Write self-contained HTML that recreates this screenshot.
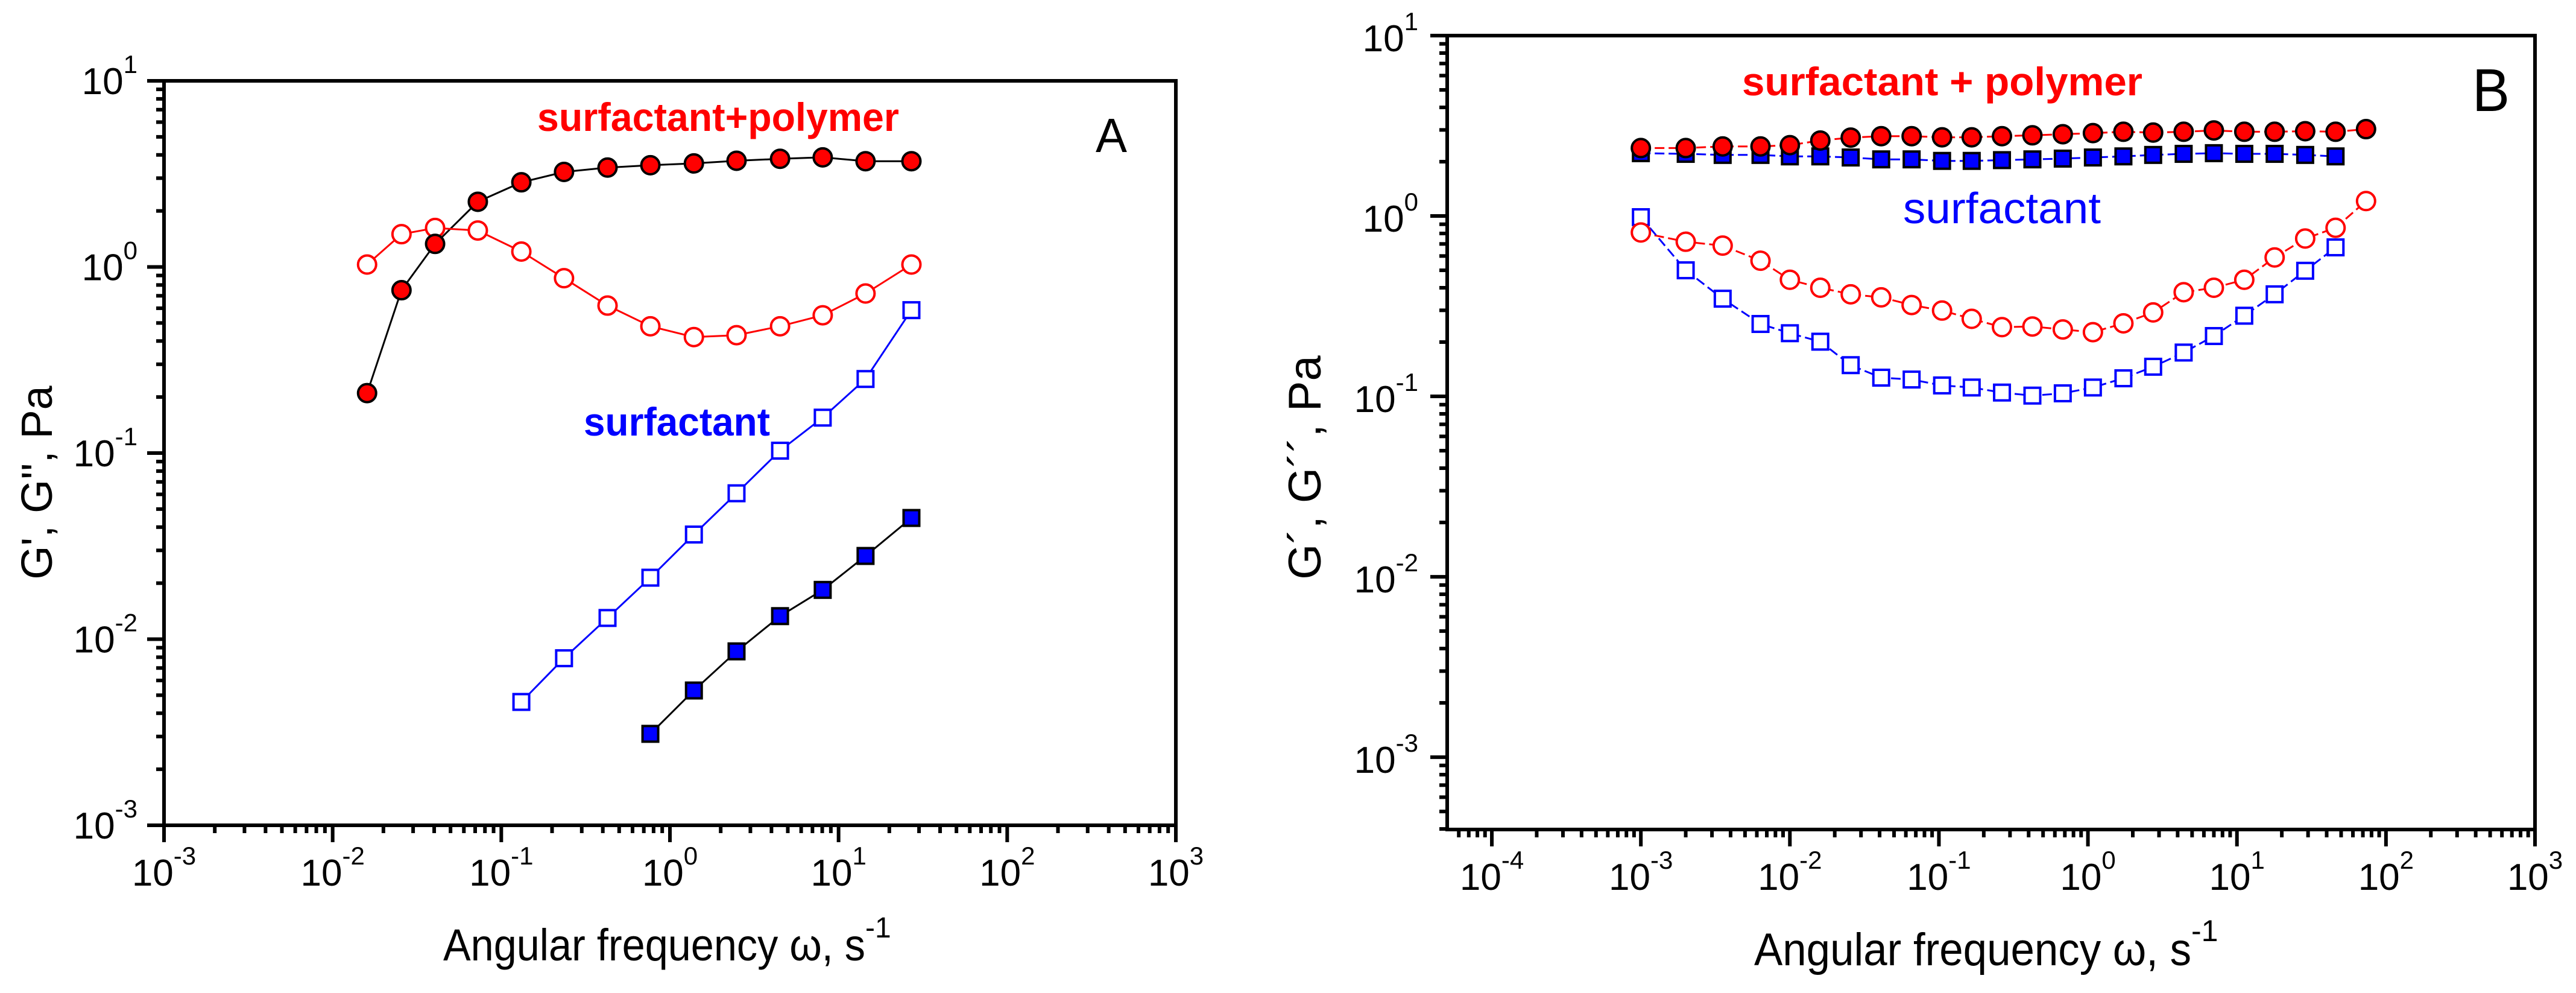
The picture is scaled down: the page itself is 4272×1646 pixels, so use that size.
<!DOCTYPE html>
<html>
<head>
<meta charset="utf-8">
<style>
  html,body{margin:0;padding:0;background:#fff;}
  svg{display:block;}
  text{font-family:"Liberation Sans Narrow","Liberation Sans",sans-serif;}
</style>
</head>
<body>
<svg id="fig" xmlns="http://www.w3.org/2000/svg" width="4272" height="1646" viewBox="0 0 4272 1646">
  <rect x="0" y="0" width="4272" height="1646" fill="#fff"/>
  <g id="panelA"></g>
  <g id="panelB"></g>
</svg>
<script>
// ---------- Panel A data ----------
const aFreq = [0.016, 0.0256, 0.0405, 0.0726, 0.1315, 0.2355, 0.4266, 0.7656, 1.387, 2.483, 4.498, 8.054, 14.45, 27.04];
const aPolyGp = [0.21, 0.75, 1.33, 2.24, 2.85, 3.24, 3.42, 3.52, 3.6, 3.72, 3.81, 3.88, 3.7, 3.7];
const aPolyGpp = [1.03, 1.5, 1.62, 1.57, 1.21, 0.87, 0.62, 0.48, 0.42, 0.43, 0.48, 0.55, 0.72, 1.03];
const aSurfGppFreq = [0.1315, 0.2355, 0.4266, 0.7656, 1.387, 2.483, 4.498, 8.054, 14.45, 27.04];
const aSurfGpp = [0.0046, 0.0079, 0.013, 0.0214, 0.0365, 0.0608, 0.103, 0.155, 0.25, 0.586];
const aSurfGpFreq = [0.7656, 1.387, 2.483, 4.498, 8.054, 14.45, 27.04];
const aSurfGp = [0.0031, 0.0053, 0.0086, 0.0133, 0.0184, 0.028, 0.0448];
const aXTickExps = [-3, -2, -1, 0, 1, 2, 3];
const aYTickExps = [1, 0, -1, -2, -3];

// ---------- Panel B data ----------
const bFreq = [0.001, 0.002, 0.00354, 0.00635, 0.01, 0.016, 0.0256, 0.041, 0.0656, 0.105, 0.166, 0.265, 0.424, 0.678, 1.08, 1.73, 2.74, 4.39, 7.0, 11.2, 17.9, 28.7, 45.9, 73.5];
const bPolyGp = [2.38, 2.38, 2.43, 2.43, 2.47, 2.62, 2.72, 2.77, 2.77, 2.73, 2.73, 2.77, 2.8, 2.84, 2.88, 2.93, 2.9, 2.93, 2.98, 2.93, 2.93, 2.95, 2.93, 3.03];
const bPolyGpp = [0.81, 0.72, 0.685, 0.565, 0.443, 0.40, 0.368, 0.354, 0.321, 0.299, 0.269, 0.242, 0.244, 0.235, 0.227, 0.254, 0.292, 0.378, 0.40, 0.443, 0.589, 0.75, 0.86, 1.21];
const bSurfFreq = [0.001, 0.002, 0.00354, 0.00635, 0.01, 0.016, 0.0256, 0.041, 0.0656, 0.105, 0.166, 0.265, 0.424, 0.678, 1.08, 1.73, 2.74, 4.39, 7.0, 11.2, 17.9, 28.7, 45.9];
const bSurfGp = [2.23, 2.21, 2.18, 2.18, 2.14, 2.14, 2.11, 2.06, 2.06, 2.02, 2.02, 2.04, 2.06, 2.08, 2.11, 2.14, 2.18, 2.21, 2.23, 2.21, 2.21, 2.18, 2.14];
const bSurfGpp = [0.985, 0.50, 0.348, 0.252, 0.224, 0.201, 0.149, 0.127, 0.124, 0.115, 0.112, 0.105, 0.101, 0.104, 0.112, 0.126, 0.146, 0.175, 0.216, 0.28, 0.368, 0.497, 0.67];
const bXTickExps = [-4, -3, -2, -1, 0, 1, 2, 3];
const bYTickExps = [1, 0, -1, -2, -3];

const NS = "http://www.w3.org/2000/svg";
function mk(tag, attrs, parent) {
  const el = document.createElementNS(NS, tag);
  for (const k in attrs) el.setAttribute(k, attrs[k]);
  parent.appendChild(el);
  return el;
}

const PA = {g: document.getElementById('panelA'), x0: 272, x1: 1950, top: 134, bottom: 1368, xmin: -3, xmax: 3, ymin: -3, ymax: 1, yLabX: 228, yLabDy: 22};
const PB = {g: document.getElementById('panelB'), x0: 2400, x1: 4204, top: 59, bottom: 1375, xmin: -4.2996, xmax: 3, ymin: -3.401, ymax: 1, yLabX: 2352, yLabDy: 26};

function sx(p, v) { return p.x0 + (Math.log10(v) - p.xmin) / (p.xmax - p.xmin) * (p.x1 - p.x0); }
function sy(p, v) { return p.bottom - (Math.log10(v) - p.ymin) / (p.ymax - p.ymin) * (p.bottom - p.top); }

function drawAxes(p, xExps, yExps, tag) {
  const g = mk('g', {}, p.g);
  
  
  const box = mk('rect', {x: p.x0, y: p.top, width: p.x1 - p.x0, height: p.bottom - p.top, fill: 'none', stroke: '#000', 'stroke-width': 6}, g);
  
  
  // x ticks
  for (let e = Math.floor(p.xmin); e <= Math.ceil(p.xmax); e++) {
    for (let m = 1; m <= 9; m++) {
      const v = m * Math.pow(10, e);
      const lv = Math.log10(v);
      if (lv < p.xmin - 1e-6 || lv > p.xmax + 1e-6) continue;
      const x = sx(p, v);
      const len = m === 1 ? 28 : 13;
      const t = mk('line', {x1: x, y1: p.bottom, x2: x, y2: p.bottom + len, stroke: '#000', 'stroke-width': 6}, g);
      
      
    }
  }
  // y ticks
  for (let e = Math.floor(p.ymin); e <= Math.ceil(p.ymax); e++) {
    for (let m = 1; m <= 9; m++) {
      const v = m * Math.pow(10, e);
      const lv = Math.log10(v);
      if (lv < p.ymin - 1e-6 || lv > p.ymax + 1e-6) continue;
      const y = sy(p, v);
      const len = m === 1 ? 28 : 13;
      const t = mk('line', {x1: p.x0, y1: y, x2: p.x0 - len, y2: y, stroke: '#000', 'stroke-width': 6}, g);
      
      
    }
  }
  // x tick labels
  xExps.forEach(function (e) {
    const x = sx(p, Math.pow(10, e));
    const t = mk('text', {x: x, y: p.bottom + 100, 'text-anchor': 'middle', 'font-size': 62, fill: '#000'}, g);
    
    
    const a = mk('tspan', {}, t); a.textContent = '10';
    const b = mk('tspan', {dy: -35, 'font-size': 42}, t); b.textContent = String(e);
  });
  // y tick labels
  yExps.forEach(function (e) {
    const y = sy(p, Math.pow(10, e));
    const t = mk('text', {x: p.yLabX, y: y + p.yLabDy, 'text-anchor': 'end', 'font-size': 62, fill: '#000'}, g);
    
    
    const a = mk('tspan', {}, t); a.textContent = '10';
    const b = mk('tspan', {dy: -35, 'font-size': 42}, t); b.textContent = String(e);
  });
}

function drawLine(p, xs, ys, color, dash, name) {
  const pts = xs.map(function (x, i) { return sx(p, x).toFixed(1) + ',' + sy(p, ys[i]).toFixed(1); }).join(' ');
  const attrs = {points: pts, fill: 'none', stroke: color, 'stroke-width': 3};
  if (dash) attrs['stroke-dasharray'] = dash;
  const l = mk('polyline', attrs, p.g);
  
  
}

function drawMarkers(p, xs, ys, shape, fill, stroke, name) {
  const g = mk('g', {}, p.g);
  
  
  xs.forEach(function (x, i) {
    const cx = sx(p, x), cy = sy(p, ys[i]);
    let m;
    if (shape === 'circle') {
      m = mk('circle', {cx: cx, cy: cy, r: 15, fill: fill, stroke: stroke, 'stroke-width': 4}, g);
    } else {
      m = mk('rect', {x: cx - 13, y: cy - 13, width: 26, height: 26, fill: fill, stroke: stroke, 'stroke-width': 4}, g);
    }
    
    
  });
}

function addText(parent, str, attrs, name) {
  const t = mk('text', attrs, parent);
  t.textContent = str;
  
  
  return t;
}

// ---------- Panel A ----------
drawAxes(PA, aXTickExps, aYTickExps, 'panel-a');
drawLine(PA, aFreq, aPolyGp, '#000', null, 'a-polymer-gprime-line');
drawLine(PA, aFreq, aPolyGpp, '#ff0000', null, 'a-polymer-gdoubleprime-line');
drawLine(PA, aSurfGppFreq, aSurfGpp, '#0000ff', null, 'a-surfactant-gdoubleprime-line');
drawLine(PA, aSurfGpFreq, aSurfGp, '#000', null, 'a-surfactant-gprime-line');
drawMarkers(PA, aFreq, aPolyGpp, 'circle', '#fff', '#ff0000', 'a-polymer-gdoubleprime-markers');
drawMarkers(PA, aFreq, aPolyGp, 'circle', '#ff0000', '#000', 'a-polymer-gprime-markers');
drawMarkers(PA, aSurfGppFreq, aSurfGpp, 'square', '#fff', '#0000ff', 'a-surfactant-gdoubleprime-markers');
drawMarkers(PA, aSurfGpFreq, aSurfGp, 'square', '#0000ff', '#000', 'a-surfactant-gprime-markers');

addText(PA.g, 'surfactant+polymer', {x: 891, y: 217, 'font-size': 66, 'font-weight': 'bold', fill: '#ff0000', textLength: 600, lengthAdjust: 'spacingAndGlyphs'}, 'a-polymer-annotation');
addText(PA.g, 'surfactant', {x: 968, y: 722, 'font-size': 66, 'font-weight': 'bold', fill: '#0000ff', textLength: 309, lengthAdjust: 'spacingAndGlyphs'}, 'a-surfactant-annotation');
addText(PA.g, 'A', {x: 1817, y: 252, 'font-size': 80, fill: '#000', textLength: 52, lengthAdjust: 'spacingAndGlyphs'}, 'a-panel-letter');
addText(PA.g, "G', G'', Pa", {x: 0, y: 0, 'font-size': 72, fill: '#000', 'text-anchor': 'middle', transform: 'translate(86,800) rotate(-90)'}, 'a-y-axis-title');
(function () {
  const t = mk('text', {x: 735, y: 1592, 'font-size': 74, fill: '#000'}, PA.g);
  
  
  const a = mk('tspan', {textLength: 700, lengthAdjust: 'spacingAndGlyphs'}, t); a.textContent = 'Angular frequency \u03C9, s';
  const b = mk('tspan', {dy: -38, 'font-size': 48}, t); b.textContent = '-1';
})();

// ---------- Panel B ----------
drawAxes(PB, bXTickExps, bYTickExps, 'panel-b');
drawLine(PB, bFreq, bPolyGpp, '#ff0000', '16,7', 'b-polymer-gdoubleprime-line');
drawLine(PB, bSurfFreq, bSurfGpp, '#0000ff', '16,7', 'b-surfactant-gdoubleprime-line');
drawLine(PB, bSurfFreq, bSurfGp, '#0000ff', '16,7', 'b-surfactant-gprime-line');
drawLine(PB, bFreq, bPolyGp, '#ff0000', '16,7', 'b-polymer-gprime-line');
drawMarkers(PB, bSurfFreq, bSurfGp, 'square', '#0000ff', '#000', 'b-surfactant-gprime-markers');
drawMarkers(PB, bFreq, bPolyGp, 'circle', '#ff0000', '#000', 'b-polymer-gprime-markers');
drawMarkers(PB, bSurfFreq, bSurfGpp, 'square', '#fff', '#0000ff', 'b-surfactant-gdoubleprime-markers');
drawMarkers(PB, bFreq, bPolyGpp, 'circle', '#fff', '#ff0000', 'b-polymer-gdoubleprime-markers');

addText(PB.g, 'surfactant + polymer', {x: 2889, y: 158, 'font-size': 66, 'font-weight': 'bold', fill: '#ff0000', textLength: 664, lengthAdjust: 'spacingAndGlyphs'}, 'b-polymer-annotation');
addText(PB.g, 'surfactant', {x: 3156, y: 370, 'font-size': 72, fill: '#0000ff', textLength: 328, lengthAdjust: 'spacingAndGlyphs'}, 'b-surfactant-annotation');
addText(PB.g, 'B', {x: 4100, y: 184, 'font-size': 100, fill: '#000', textLength: 62, lengthAdjust: 'spacingAndGlyphs'}, 'b-panel-letter');
addText(PB.g, "G\u00B4, G\u00B4\u00B4, Pa", {x: 0, y: 0, 'font-size': 76, fill: '#000', 'text-anchor': 'middle', transform: 'translate(2190,775) rotate(-90)'}, 'b-y-axis-title');
(function () {
  const t = mk('text', {x: 2909, y: 1600, 'font-size': 76, fill: '#000'}, PB.g);
  
  
  const a = mk('tspan', {textLength: 725, lengthAdjust: 'spacingAndGlyphs'}, t); a.textContent = 'Angular frequency \u03C9, s';
  const b = mk('tspan', {dy: -40, 'font-size': 50}, t); b.textContent = '-1';
})();
</script>
</body>
</html>
